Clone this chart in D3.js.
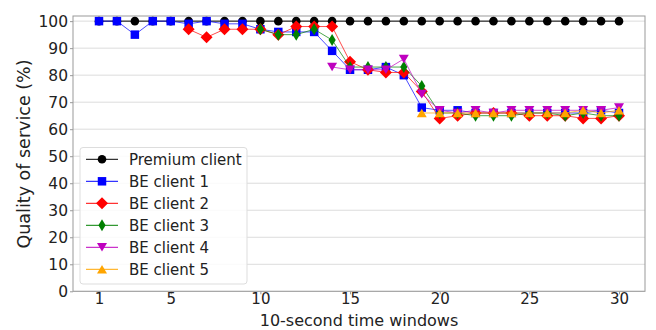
<!DOCTYPE html>
<html><head><meta charset="utf-8">
<script src="https://cdn.jsdelivr.net/npm/d3@7"></script>
<style>body{margin:0;background:#fff}svg{display:block}text{font-family:"DejaVu Sans",sans-serif;fill:#222}</style>
</head><body><svg id="c" width="656" height="330"></svg>
<script>
const xTicks = [1,5,10,15,20,25,30];
const yTicks = [0,10,20,30,40,50,60,70,80,90,100];
const seriesNames = ["Premium client","BE client 1","BE client 2","BE client 3","BE client 4","BE client 5"];
const seriesStart = [1,1,6,10,14,19];
const premium = [100,100,100,100,100,100,100,100,100,100,100,100,100,100,100,100,100,100,100,100,100,100,100,100,100,100,100,100,100,100];
const be1 = [100,100,95,100,100,99,100,99,99,97,96,96,96,89,82,82,83,80,68,67,67,66,66,66,66,66,66,66,67,66];
const be2 = [97,94,97,97,97,95,98,98,98,85,82,81,81,74,64,65,66,66,66,65,65,65,64,64,65];
const be3 = [97,95,95,97,93,83,83,83,83,76,66,66,65,65,65,66,66,65,66,65,65];
const be4 = [83,82,82,82,86,73,67,66,67,66,67,67,67,67,67,67,68];
const be5 = [66,66,66,66,66,66,66,66,66,67,66,67];
const seriesValues = [premium,be1,be2,be3,be4,be5];
const colors = ["#000000","#0000ff","#ff0000","#008000","#bf00bf","#ffa500"];
const shapes = ["circle","square","diamond","thindiamond","triangledown","triangleup"];

const svg = d3.select("#c");
const L=73, R=645, T=16, B=291.3;
const x = d3.scaleLinear().domain([-0.45,31.45]).range([L,R]);
const y = d3.scaleLinear().domain([0,101.9]).range([B,T]);

// grid
svg.append("g").selectAll("line").data(yTicks).join("line")
  .attr("x1",L).attr("x2",R).attr("y1",d=>y(d)).attr("y2",d=>y(d))
  .attr("stroke","#dcdcdc").attr("stroke-width",1);

// axes
const gx = svg.append("g").attr("transform",`translate(0,${B})`)
  .call(d3.axisBottom(x).tickValues(xTicks).tickSize(3).tickPadding(-0.5));
const gy = svg.append("g").attr("transform",`translate(${L},0)`)
  .call(d3.axisLeft(y).tickValues(yTicks).tickSize(3).tickPadding(2));
[gx,gy].forEach(g=>{g.select(".domain").remove();
  g.selectAll(".tick line").attr("stroke","#999");
  g.selectAll(".tick text").attr("font-size",15.5).attr("fill","#222").style("font-family","DejaVu Sans");});
gx.selectAll(".tick text").attr("font-size",15);
svg.append("rect").attr("x",L).attr("y",T).attr("width",R-L).attr("height",B-T)
  .attr("fill","none").attr("stroke","#999").attr("stroke-width",1);

function markerPath(i){
  const s = shapes[i];
  if(s==="diamond") return "M0,-6L6,0L0,6L-6,0Z";
  if(s==="thindiamond") return "M0,-6L3.6,0L0,6L-3.6,0Z";
  if(s==="triangledown") return "M-5,-4.3L5,-4.3L0,4.3Z";
  if(s==="triangleup") return "M-5,4.3L5,4.3L0,-4.3Z";
  if(s==="square") return d3.symbol().type(d3.symbolSquare).size(72)();
  return d3.symbol().type(d3.symbolCircle).size(58)();
}

const line = d3.line().x(d=>x(d[0])).y(d=>y(d[1]));
seriesValues.forEach((vals,i)=>{
  const pts = vals.map((v,j)=>[seriesStart[i]+j,v]);
  const g = svg.append("g");
  g.append("path").attr("d",line(pts)).attr("fill","none").attr("stroke",colors[i]).attr("stroke-width",1)
    .attr("stroke-opacity", i===0?1:0.7);
  g.selectAll("path.m").data(pts).join("path").attr("class","m")
    .attr("transform",d=>`translate(${x(d[0])},${y(d[1])})`)
    .attr("d",markerPath(i)).attr("fill",colors[i]);
});

// legend
const lg = svg.append("g");
lg.append("rect").attr("x",80).attr("y",147.5).attr("width",167).attr("height",136.5).attr("rx",3)
  .attr("fill","#fff").attr("fill-opacity",0.85).attr("stroke","#dddddd");
seriesNames.forEach((n,i)=>{
  const yy = 159.3 + i*22;
  lg.append("line").attr("x1",86).attr("x2",118).attr("y1",yy).attr("y2",yy).attr("stroke",colors[i]).attr("stroke-width",1);
  lg.append("path").attr("transform",`translate(102,${yy})`).attr("d",markerPath(i)).attr("fill",colors[i]);
  lg.append("text").attr("x",129).attr("y",yy).attr("dy","0.36em").attr("font-size",15).text(n);
});

// axis labels
svg.append("text").attr("x",359).attr("y",326).attr("text-anchor","middle").attr("font-size",16).text("10-second time windows");
svg.append("text").attr("transform","translate(30,154) rotate(-90)").attr("text-anchor","middle").attr("font-size",17.5).text("Quality of service (%)");
</script></body></html>
